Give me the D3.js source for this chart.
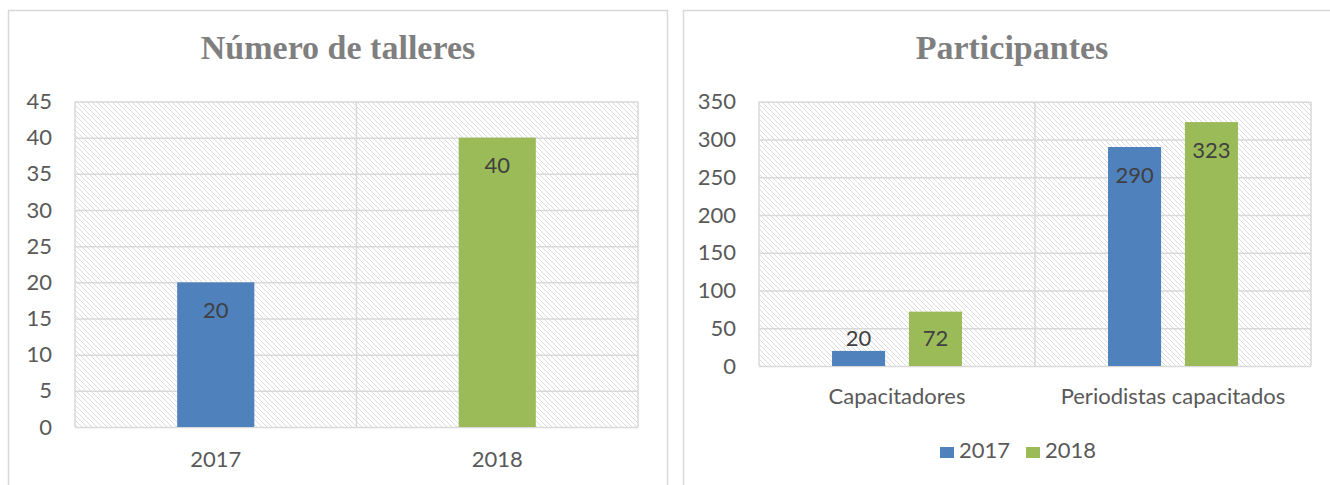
<!DOCTYPE html>
<html>
<head>
<meta charset="utf-8">
<script src="https://cdn.jsdelivr.net/npm/d3@7"></script>
<style>
  body { margin: 0; background: #fff; }
  svg { display: block; }
</style>
</head>
<body>
<svg id="chart" width="1330" height="485"></svg>
<script>
// left chart: number of workshops
const tallerYears = ["2017", "2018"];
const tallerValues = [20, 40];
const tallerTicks = [0, 5, 10, 15, 20, 25, 30, 35, 40, 45];

// right chart: participants
const partCategories = ["Capacitadores", "Periodistas capacitados"];
const partSeries = ["2017", "2018"];
const part2017 = [20, 290];
const part2018 = [72, 323];
const partTicks = [0, 50, 100, 150, 200, 250, 300, 350];

const colors = { "2017": "#4f81bd", "2018": "#9bbb59" };
const textColor = "#595959";
const gridColor = "#d9d9d9";
const font = "Lato, 'Open Sans', sans-serif";
const fontSize = "22px";

const svg = d3.select("#chart");

// hatch pattern for plot area
const pat = svg.append("defs").append("pattern")
  .attr("id", "hatch")
  .attr("patternUnits", "userSpaceOnUse")
  .attr("width", 5)
  .attr("height", 5);
pat.append("rect").attr("width", 5).attr("height", 5).attr("fill", "#fff");
pat.append("path")
  .attr("d", "M0,0L5,5M-1,4L1,6M4,-1L6,1")
  .attr("stroke", "#dcdcdc")
  .attr("stroke-width", 1);

// panel borders
svg.append("rect").attr("x", 8.5).attr("y", 10.5).attr("width", 659).attr("height", 490)
  .attr("fill", "none").attr("stroke", gridColor).attr("stroke-width", 1.5);
svg.append("rect").attr("x", 683.5).attr("y", 10.5).attr("width", 660).attr("height", 490)
  .attr("fill", "none").attr("stroke", gridColor).attr("stroke-width", 1.5);

function drawFrame(g, x0, y, ticks, categories, left, right, top, bottom, catY) {
  g.append("rect")
    .attr("x", left).attr("y", top)
    .attr("width", right - left).attr("height", bottom - top)
    .attr("fill", "url(#hatch)");

  const axis = d3.axisLeft(y).tickValues(ticks).tickSize(-(right - left)).tickPadding(23);
  const ag = g.append("g").attr("transform", `translate(${left},0)`).call(axis);
  ag.select(".domain").remove();
  ag.selectAll(".tick line").attr("stroke", gridColor).attr("stroke-width", 1.5);
  ag.selectAll(".tick text")
    .attr("fill", textColor)
    .style("font-family", font)
    .style("font-size", fontSize);

  // plot borders and category dividers
  const edges = [left, ...categories.slice(1).map(c => x0(c) - (x0.step() - x0.bandwidth()) / 2), right];
  g.selectAll(".vline").data(edges).enter().append("line")
    .attr("x1", d => d).attr("x2", d => d)
    .attr("y1", top).attr("y2", bottom)
    .attr("stroke", gridColor).attr("stroke-width", 1.5);

  g.selectAll(".cat").data(categories).enter().append("text")
    .attr("x", d => x0(d) + x0.bandwidth() / 2)
    .attr("y", catY)
    .attr("text-anchor", "middle")
    .attr("fill", textColor)
    .style("font-family", font)
    .style("font-size", fontSize)
    .text(d => d);
}

function valueLabel(g, x, y, v, y0) {
  const cy = Math.min(y + 28, y0 - 28);
  g.append("text")
    .attr("x", x).attr("y", cy)
    .attr("dy", "0.35em")
    .attr("text-anchor", "middle")
    .attr("fill", "#404040")
    .style("font-family", font)
    .style("font-size", fontSize)
    .text(v);
}

function title(g, x, text) {
  g.append("text")
    .attr("x", x).attr("y", 59)
    .attr("text-anchor", "middle")
    .attr("fill", "#7f7f7f")
    .style("font-family", "'Liberation Serif', serif")
    .style("font-weight", "bold")
    .style("font-size", "34px")
    .text(text);
}

// ---- left chart ----
{
  const left = 75, right = 638, top = 101.5, bottom = 427;
  const g = svg.append("g");
  const x0 = d3.scaleBand().domain(tallerYears).range([left, right]).paddingInner(0).paddingOuter(0);
  const y = d3.scaleLinear().domain([0, 45]).range([bottom, top]);
  drawFrame(g, x0, y, tallerTicks, tallerYears, left, right, top, bottom, 467);

  const xb = d3.scaleBand().domain(tallerYears).range([left, right]).paddingInner(0.726).paddingOuter(0.363);
  tallerYears.forEach((yr, i) => {
    g.append("rect")
      .attr("x", xb(yr)).attr("y", y(tallerValues[i]))
      .attr("width", xb.bandwidth()).attr("height", y(0) - y(tallerValues[i]))
      .attr("fill", colors[yr]);
    valueLabel(g, xb(yr) + xb.bandwidth() / 2, y(tallerValues[i]), tallerValues[i], y(0));
  });

  title(g, 338, "Número de talleres");
}

// ---- right chart ----
{
  const left = 759, right = 1311, top = 101.7, bottom = 366;
  const g = svg.append("g");
  const x0 = d3.scaleBand().domain(partCategories).range([left, right]).padding(0);
  const x1 = d3.scaleBand().domain(partSeries).range([0, x0.bandwidth()]).paddingInner(0.31).paddingOuter(0.95);
  const y = d3.scaleLinear().domain([0, 350]).range([bottom, top]);
  drawFrame(g, x0, y, partTicks, partCategories, left, right, top, bottom, 404);

  const seriesValues = { "2017": part2017, "2018": part2018 };
  partCategories.forEach((cat, i) => {
    partSeries.forEach(s => {
      const v = seriesValues[s][i];
      const bx = x0(cat) + x1(s);
      g.append("rect")
        .attr("x", bx).attr("y", y(v))
        .attr("width", x1.bandwidth()).attr("height", y(0) - y(v))
        .attr("fill", colors[s]);
      valueLabel(g, bx + x1.bandwidth() / 2, y(v), v, y(0));
    });
  });

  title(g, 1012, "Participantes");

  // legend
  const legendX = [940, 1026];
  const lg = g.append("g");
  partSeries.forEach((s, i) => {
    lg.append("rect")
      .attr("x", legendX[i]).attr("y", 447)
      .attr("width", 14).attr("height", 11)
      .attr("fill", colors[s]);
    lg.append("text")
      .attr("x", legendX[i] + 19).attr("y", 458)
      .attr("fill", textColor)
      .style("font-family", font)
      .style("font-size", fontSize)
      .text(s);
  });
}
</script>
</body>
</html>
